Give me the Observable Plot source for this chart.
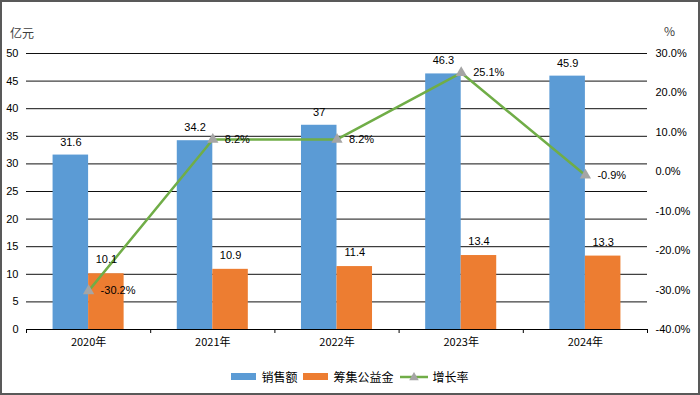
<!DOCTYPE html>
<html>
<head>
<meta charset="utf-8">
<script src="https://cdn.jsdelivr.net/npm/d3@7"></script>
<script src="https://cdn.jsdelivr.net/npm/@observablehq/plot@0.6"></script>
<style>
  html, body { margin: 0; padding: 0; background: #fff; }
  #wrap { position: relative; width: 700px; height: 395px; overflow: hidden; font-family: "Liberation Sans", "Noto Sans CJK SC", sans-serif; }
  #frame { position: absolute; left: 0; top: 0; width: 700px; height: 395px; box-sizing: border-box; border: 2px solid #595959; pointer-events: none; }
  #chart { position: absolute; left: 0; top: 0; }
  .unit { position: absolute; font-family: "Noto Sans CJK SC", sans-serif; font-size: 12px; color: #404040; }
  #legend { position: absolute; left: 0; top: 368px; width: 700px; display: flex; justify-content: center; align-items: center; font-family: "Noto Sans CJK SC", sans-serif; font-size: 12px; color: #000; }
  .sw { display: inline-block; width: 25px; height: 7px; margin-right: 5px; }
  .item { display: flex; align-items: center; margin: 0 3px; }
</style>
</head>
<body>
<div id="wrap">
  <div id="chart"></div>
  <div class="unit" style="left:10px; top:24px;">亿元</div>
  <div class="unit" style="left:664px; top:22px;">%</div>
  <div id="legend"></div>
  <div id="frame"></div>
</div>
<script>
const years = ["2020年", "2021年", "2022年", "2023年", "2024年"];
const sales = [31.6, 34.2, 37, 46.3, 45.9];
const fund = [10.1, 10.9, 11.4, 13.4, 13.3];
const growth = [-30.2, 8.2, 8.2, 25.1, -0.9];
const leftTicks = [0, 5, 10, 15, 20, 25, 30, 35, 40, 45, 50];
const rightTicks = [-40, -30, -20, -10, 0, 10, 20, 30];
const seriesNames = ["销售额", "筹集公益金", "增长率"];
const colors = ["#5B9BD5", "#ED7D31", "#70AD47"];
const markerColor = "#A5A5A5";

// map percent axis (-40..30) onto the left value axis (0..50)
const pMin = -40, pMax = 30, vMax = 50;
const toLeft = p => (p - pMin) / (pMax - pMin) * vMax;
const fromLeft = v => v / vMax * (pMax - pMin) + pMin;

const rows = years.map((y, i) => ({i, year: y, sales: sales[i], fund: fund[i], growth: growth[i]}));
const half = 0.286;

const chart = Plot.plot({
  width: 700,
  height: 395,
  marginLeft: 26,
  marginRight: 53,
  marginTop: 53,
  marginBottom: 66,
  style: {fontFamily: '"Liberation Sans", "Noto Sans CJK SC", sans-serif', fontSize: "11px", color: "#000", background: "transparent"},
  x: {type: "linear", domain: [-0.5, years.length - 0.5]},
  y: {domain: [0, vMax]},
  marks: [
    Plot.gridY(leftTicks, {stroke: "#111", strokeOpacity: 1, strokeWidth: 1}),
    Plot.rectY(rows, {x1: d => d.i - half, x2: d => d.i, y: "sales", fill: colors[0]}),
    Plot.rectY(rows, {x1: d => d.i, x2: d => d.i + half, y: "fund", fill: colors[1]}),
    Plot.ruleY([0], {stroke: "#000", strokeWidth: 1}),
    Plot.axisY(leftTicks, {anchor: "left", tickSize: 0, tickPadding: 8, label: null, fontSize: 11}),
    Plot.axisY(rightTicks.map(toLeft), {anchor: "right", tickSize: 0, tickPadding: 8, label: null, fontSize: 11,
      tickFormat: v => fromLeft(v).toFixed(1) + "%"}),
    Plot.axisX(d3.range(years.length + 1).map(k => k - 0.5), {tickSize: 4, tickFormat: () => "", label: null, stroke: "#000"}),
    Plot.axisX(d3.range(years.length), {tickSize: 0, tickPadding: 9, label: null, fontSize: 11,
      tickFormat: k => years[k], fontFamily: '"Noto Sans CJK SC", sans-serif'}),
    Plot.line(rows, {x: "i", y: d => toLeft(d.growth), stroke: colors[2], strokeWidth: 2.5}),
    Plot.dot(rows, {x: "i", y: d => toLeft(d.growth), symbol: "triangle", fill: markerColor, r: 4.2}),
    Plot.text(rows, {x: d => d.i - half / 2, y: "sales", text: d => String(d.sales), dy: -13, fontSize: 11, fill: "#000"}),
    Plot.text(rows, {x: d => d.i + half / 2, y: "fund", text: d => String(d.fund), dy: -14, fontSize: 11, fill: "#000"}),
    Plot.text(rows, {x: "i", y: d => toLeft(d.growth), text: d => d.growth.toFixed(1) + "%", dx: 12, textAnchor: "start", fontSize: 11, fill: "#000"})
  ]
});
document.getElementById("chart").appendChild(chart);

// legend
const legend = document.getElementById("legend");
seriesNames.forEach((name, k) => {
  const item = document.createElement("div");
  item.className = "item";
  if (k < 2) {
    const sw = document.createElement("span");
    sw.className = "sw";
    sw.style.background = colors[k];
    item.appendChild(sw);
  } else {
    const svg = d3.create("svg").attr("width", 28).attr("height", 10).style("margin-right", "5px");
    svg.append("line").attr("x1", 0).attr("x2", 28).attr("y1", 5).attr("y2", 5).attr("stroke", colors[2]).attr("stroke-width", 2.5);
    svg.append("path").attr("d", d3.symbol(d3.symbolTriangle, 40)()).attr("transform", "translate(14,5.5)").attr("fill", markerColor);
    item.appendChild(svg.node());
  }
  const t = document.createElement("span");
  t.textContent = name;
  item.appendChild(t);
  legend.appendChild(item);
});
</script>
</body>
</html>
